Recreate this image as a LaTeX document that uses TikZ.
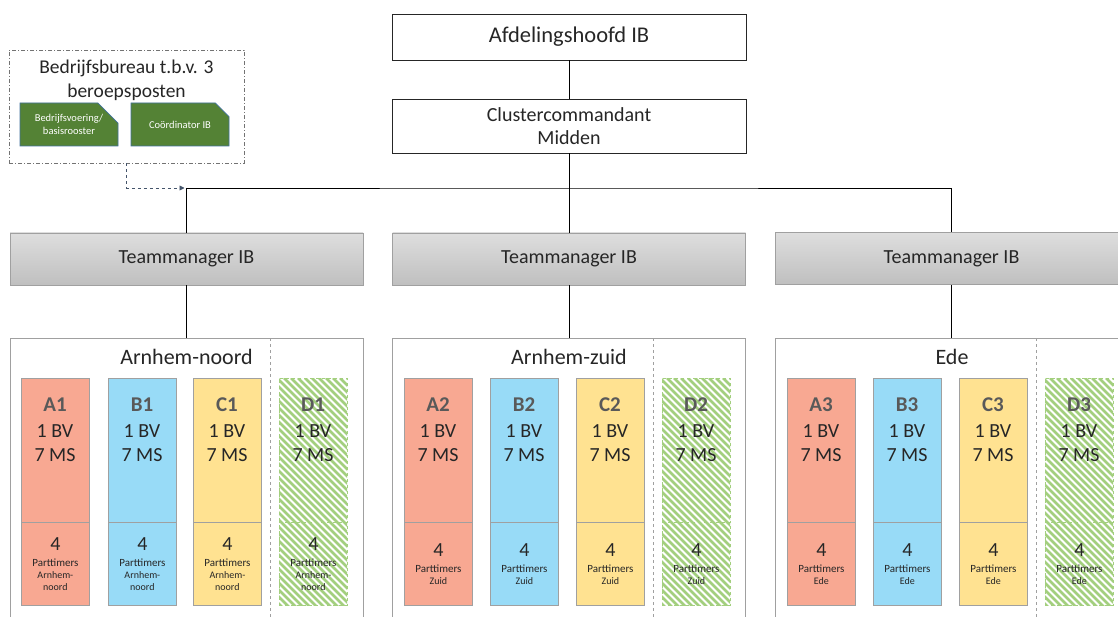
\documentclass[tikz,border=0pt]{standalone}
\usepackage{fontspec}
\setmainfont{Carlito}
\usetikzlibrary{shapes.misc,arrows.meta}
\definecolor{txt}{HTML}{262626}
\definecolor{lettergrey}{HTML}{595959}
\definecolor{frame}{HTML}{A0A0A0}
\definecolor{colA}{HTML}{F8A892}
\definecolor{colB}{HTML}{98DBF7}
\definecolor{colC}{HTML}{FFE291}
\definecolor{colD}{HTML}{A3CF7E}
\definecolor{gbox}{HTML}{548235}
\definecolor{gborder}{HTML}{41719C}
\definecolor{arrowc}{HTML}{44546A}
\tikzset{
  whitebox/.style={draw=black!85, line width=0.9pt, fill=white, minimum width=354pt, text=txt, align=center},
  tmbox/.style={draw=frame, line width=0.8pt, top color=black!13, bottom color=black!25, minimum width=353pt, minimum height=52pt, text=txt, font=\fontsize{20}{24}\selectfont},
  region/.style={draw=frame, line width=0.9pt, minimum width=353pt, minimum height=300pt},
  colbox/.style={draw=frame, line width=0.8pt, minimum width=68pt, text=txt, align=center, inner sep=0pt},
  fillA/.style={fill=colA},
  fillB/.style={fill=colB},
  fillC/.style={fill=colC},
  fillD/.style={draw=colD, dashed},
  stripe/.style={draw=colD, line width=2.6pt},
  conn/.style={draw=black, line width=0.9pt},
  regtitle/.style={text=txt, font=\fontsize{22}{26}\selectfont},
  greenbox/.style={chamfered rectangle, chamfered rectangle corners=north east, chamfered rectangle xsep=12pt, chamfered rectangle ysep=10pt, fill=gbox, draw=gborder, line width=0.8pt, minimum width=98pt, minimum height=43pt, inner sep=0pt, text=white, align=center, font=\fontsize{10.5}{13}\selectfont},
}
\newcommand\mkcol[5]{%
  \node[colbox,#3,anchor=north west,minimum height=144pt] (#1t) at (#2,378) {};
  \node[colbox,#3,anchor=north west,minimum height=83pt] (#1b) at (#2,522) {{\fontsize{20}{20}\selectfont 4}\\[4pt]\fontsize{11}{14}\selectfont #5};
  \node[text=lettergrey, font=\fontsize{21}{24}\selectfont\bfseries] (#1l) at (#2+34,405) {#4};
  \node[text=txt, align=center, font=\fontsize{20}{24}\selectfont] (#1n) at (#2+34,443) {1 BV\\7 MS};
}
\newcommand\mkstripes[1]{%
  \begin{scope}
    \clip (#1,378) rectangle (#1+68,605);
    \foreach \s in {-240,-233,...,70} \draw[stripe] (#1+\s,378) -- ++(240,240);
  \end{scope}
}
\begin{document}
\begin{tikzpicture}[x=1pt,y=-1pt]
\useasboundingbox (0,0) rectangle (1118,617);
\clip (0,0) rectangle (1118,617);
\fill[white] (0,0) rectangle (1118,617);

% top boxes
\node[whitebox, minimum height=46pt, font=\fontsize{22.5}{26}\selectfont] (afd) at (569,37) {Afdelingshoofd IB};
\node[whitebox, minimum height=54pt, font=\fontsize{20}{23.5}\selectfont] (clus) at (569,126) {Clustercommandant\\Midden};
\coordinate (bus) at (569,188);

% team managers
\node[tmbox] (tm1) at (186.5,259) {Teammanager IB};
\node[tmbox] (tm2) at (569,259) {Teammanager IB};
\node[tmbox] (tm3) at (951.5,258.5) {Teammanager IB};

% regions
\node[region, anchor=north west] (reg1) at (10,338) {};
\node[region, anchor=north west] (reg2) at (392,338) {};
\node[region, anchor=north west] (reg3) at (775,338) {};
\draw[frame, dashed, line width=0.9pt] (270,338) -- (270,640);
\draw[frame, dashed, line width=0.9pt] (653,338) -- (653,640);
\draw[frame, dashed, line width=0.9pt] (1036,338) -- (1036,640);
\node[regtitle] (t1) at (186.5,357) {Arnhem-noord};
\node[regtitle] (t2) at (569,357) {Arnhem-zuid};
\node[regtitle] (t3) at (952,357) {Ede};

% connectors
\draw[conn] (afd) -- (clus);
\draw[conn] (clus) -- (bus);
\draw[conn] (tm1.north) |- (bus) -| (tm3.north);
\draw[conn] (bus) -- (tm2.north);
\draw[conn] (tm1.south) -- (tm1.south |- reg1.north);
\draw[conn] (tm2.south) -- (tm2.south |- reg2.north);
\draw[conn] (tm3.south) -- (tm3.south |- reg3.north);

% striped backgrounds
\mkstripes{279}
\mkstripes{662}
\mkstripes{1045}

% columns
\mkcol{A1}{21}{fillA}{A1}{Parttimers\\Arnhem-\\noord}
\mkcol{B1}{108}{fillB}{B1}{Parttimers\\Arnhem-\\noord}
\mkcol{C1}{193}{fillC}{C1}{Parttimers\\Arnhem-\\noord}
\mkcol{D1}{279}{fillD}{D1}{Parttimers\\Arnhem-\\noord}
\mkcol{A2}{404}{fillA}{A2}{Parttimers\\Zuid}
\mkcol{B2}{490}{fillB}{B2}{Parttimers\\Zuid}
\mkcol{C2}{576}{fillC}{C2}{Parttimers\\Zuid}
\mkcol{D2}{662}{fillD}{D2}{Parttimers\\Zuid}
\mkcol{A3}{787}{fillA}{A3}{Parttimers\\Ede}
\mkcol{B3}{873}{fillB}{B3}{Parttimers\\Ede}
\mkcol{C3}{959}{fillC}{C3}{Parttimers\\Ede}
\mkcol{D3}{1045}{fillD}{D3}{Parttimers\\Ede}

% Bedrijfsbureau
\node[draw=black!55, line width=0.8pt, dash pattern=on 4pt off 2pt on 1pt off 2pt, minimum width=235pt, minimum height=113pt] (bb) at (126.5,106.5) {};
\node[text=txt, align=center, font=\fontsize{19.5}{24}\selectfont] (bbt) at (126.5,80) {Bedrijfsbureau t.b.v. 3\\beroepsposten};
\node[greenbox] (g1) at (69,124.5) {Bedrijfsvoering/\\basisrooster};
\node[greenbox] (g2) at (180,124.5) {Coördinator IB};
\draw[arrowc, line width=0.9pt, dashed, -{Triangle[length=5pt,width=5pt]}] (bb.south) |- ([xshift=-2pt]tm1.north |- bus);
\end{tikzpicture}
\end{document}
